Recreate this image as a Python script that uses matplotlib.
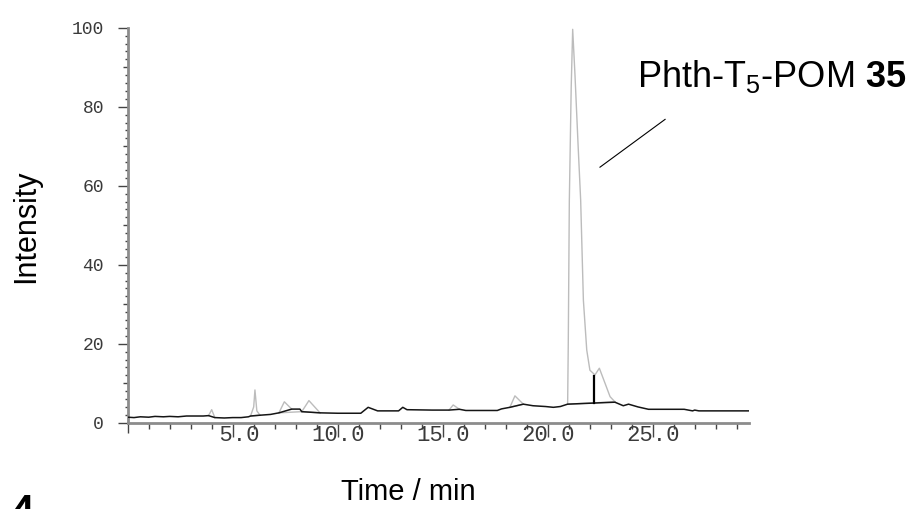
import matplotlib.pyplot as plt

plt.rcParams['font.family'] = ['Liberation Sans', 'DejaVu Sans']
plt.rcParams['mathtext.fontset'] = 'custom'
plt.rcParams['mathtext.rm'] = 'Liberation Sans'
plt.rcParams['mathtext.it'] = 'Liberation Sans'
plt.rcParams['mathtext.bf'] = 'Liberation Sans:bold'

# chromatogram baseline trace (time in min, relative intensity)
base_t = [0.0, 0.3, 0.6, 1.0, 1.3, 1.7, 2.0, 2.4, 2.8, 3.2, 3.6, 3.85,
          4.15, 4.6, 5.0, 5.4, 5.75, 5.85, 6.3, 6.8, 7.2,
          7.81, 8.2, 8.29, 9.16, 10.0, 11.1, 11.45, 11.7, 11.9, 12.9, 13.1,
          13.3, 14.5, 15.3, 15.8, 16.1, 17.0, 17.6, 17.8, 18.2,
          18.84, 19.3, 19.9, 20.27, 20.6, 20.95,
          23.2, 23.6, 23.85, 24.3, 24.8, 26.5, 26.9, 27.0, 27.2, 28.0, 29.6]
base_i = [1.4, 1.3, 1.5, 1.4, 1.6, 1.5, 1.6, 1.5, 1.7, 1.7, 1.7, 1.8,
          1.3, 1.2, 1.3, 1.3, 1.5, 1.7, 1.9, 2.1, 2.5,
          3.45, 3.45, 2.8, 2.5, 2.4, 2.4, 3.9, 3.4, 3.0, 3.0, 3.9,
          3.3, 3.2, 3.2, 3.4, 3.1, 3.1, 3.1, 3.5, 3.9,
          4.7, 4.3, 4.1, 3.9, 4.1, 4.7,
          5.2, 4.3, 4.7, 4.0, 3.4, 3.4, 3.0, 3.2, 3.0, 3.0, 3.0]

# integrated peaks
pk1_t = [3.85, 4.0, 4.15]
pk1_i = [1.8, 3.3, 1.3]
pk2_t = [5.85, 6.0, 6.06, 6.15, 6.3]
pk2_i = [1.7, 4.0, 8.3, 3.0, 1.9]
pk3_t = [7.2, 7.46, 7.81]
pk3_i = [2.5, 5.3, 3.45]
pk4_t = [8.29, 8.63, 9.16]
pk4_i = [2.8, 5.6, 2.5]
pk5_t = [15.3, 15.5, 15.8]
pk5_i = [3.2, 4.5, 3.4]
pk6_t = [18.2, 18.44, 18.84]
pk6_i = [3.9, 6.8, 4.7]
main_t = [20.95, 20.98, 21.03, 21.12, 21.19, 21.3, 21.45, 21.57, 21.7,
          21.86, 22.01, 22.25, 22.46, 22.73, 22.97, 23.2]
main_i = [4.7, 20.0, 56.0, 85.0, 99.6, 88.0, 70.0, 56.4, 31.0,
          18.4, 13.3, 12.1, 13.8, 10.0, 6.6, 5.3]

# peak baselines
pkb_t = [[5.85, 6.3], [7.2, 8.29], [8.29, 9.16], [18.2, 18.84], [20.95, 23.2]]
pkb_i = [[1.7, 1.9], [2.5, 2.8], [2.8, 2.5], [3.9, 4.7], [4.7, 5.3]]

# drop line between main peak and shoulder
drop_t = 22.22
drop_i = [4.9, 11.8]

x_major = [5, 10, 15, 20, 25]
x_labels = [' 5.0', '10.0', '15.0', '20.0', '25.0']

fig = plt.figure(figsize=(9.16, 5.09), dpi=100)
ax = fig.add_axes([0.1394, 0.1695, 0.6786, 0.776])

gray = '#bcbcbc'
ax.plot(base_t, base_i, color='#151515', lw=1.1, zorder=3)
for t, i in [(pk1_t, pk1_i), (pk2_t, pk2_i), (pk3_t, pk3_i), (pk4_t, pk4_i),
             (pk5_t, pk5_i), (pk6_t, pk6_i), (main_t, main_i)]:
    ax.plot(t, i, color=gray, lw=1.0, zorder=2)
for t, i in zip(pkb_t, pkb_i):
    ax.plot(t, i, color=gray, lw=1.0, zorder=2)
ax.plot([drop_t, drop_t], drop_i, color='black', lw=1.6, zorder=4)

ax.set_xlim(0, 29.6)
ax.set_ylim(0, 100)

for s in ['top', 'right']:
    ax.spines[s].set_visible(False)
for s in ['left', 'bottom']:
    ax.spines[s].set_color('#8c8c8c')
    ax.spines[s].set_linewidth(2)

# x ticks: every minute, long marks with labels every 5 min
xt = list(range(0, 30))
ax.set_xticks(xt)
ax.set_xticklabels([x_labels[x_major.index(v)] if v in x_major else '' for v in xt],
                   family='Liberation Mono', fontsize=16, color='#3a3a3a')
ax.tick_params(axis='x', which='major', direction='out', length=10, width=1,
               color='#444444', pad=-8.6)
for v, tk in zip(xt, ax.xaxis.get_major_ticks()):
    if v in x_major:
        tk.tick1line.set_markersize(10)
    elif v == 0:
        tk.tick1line.set_markersize(7)
    else:
        tk.tick1line.set_markersize(4)

# y ticks: labels every 20, marks every 10 and minor every 2
yt = list(range(0, 101, 10))
ax.set_yticks(yt)
ax.set_yticklabels([str(v) if v % 20 == 0 else '' for v in yt],
                   family='Liberation Mono', fontsize=13, color='#3a3a3a')
ax.set_yticks([v for v in range(0, 101, 2) if v % 10], minor=True)
ax.tick_params(axis='y', which='major', direction='out', length=7, width=1,
               color='#444444', pad=10)
ax.tick_params(axis='y', which='minor', direction='out', length=2.2, width=1,
               color='#444444')
for v, tk in zip(yt, ax.yaxis.get_major_ticks()):
    if v % 20:
        tk.tick1line.set_markersize(3.8)

fig.text(0.028, 0.556, 'Intensity', fontsize=22, rotation=90,
         ha='center', va='center')
fig.text(0.446, 0.018, 'Time / min', fontsize=21, ha='center', va='baseline')

ax.text(24.25, 85.1, 'Phth-T$_5$-POM $\\mathbf{35}$', fontsize=26, ha='left',
        va='baseline')
ax.plot([22.49, 25.59], [64.7, 76.8], color='black', lw=0.8)

# panel letter, cut off at the lower edge
fig.text(0.004, 0.031, '4', fontsize=44, ha='left', va='top')

fig.savefig('out.png', dpi=100)
